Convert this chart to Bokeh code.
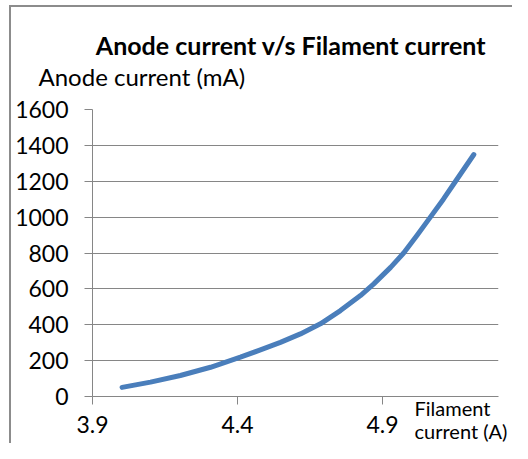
from bokeh.plotting import figure
from bokeh.models import Range1d, FixedTicker, Label
from bokeh.embed import file_html
from bokeh.resources import INLINE

# Data
filament_current = [4.002, 4.100, 4.203, 4.307, 4.410, 4.479, 4.548, 4.617, 4.686,
                    4.755, 4.824, 4.870, 4.928, 4.973, 5.020, 5.065, 5.110, 5.152, 5.215]
anode_current = [51, 80, 117, 163, 219, 260, 302, 349, 405,
                 479, 563, 628, 720, 800, 900, 1000, 1100, 1200, 1349]

x_ticks = [3.9, 4.4, 4.9]
y_ticks = [0, 200, 400, 600, 800, 1000, 1200, 1400, 1600]

title_text = "Anode current v/s Filament current"
y_label_text = "Anode current (mA)"
x_label_lines = ["Filament", "current (A)"]

FONT = "Lato"
GRAY = "#868686"
BORDER = "#8c8c8c"
BLUE = "#4a7ebb"

chart_border = (
    f"linear-gradient({BORDER}, {BORDER}) 9px 5px / 2px 100% no-repeat, "
    f"linear-gradient({BORDER}, {BORDER}) 9px 5px / 100% 2px no-repeat"
)

p = figure(
    title=None,
    frame_width=406, frame_height=287,
    min_border_left=92, min_border_right=14,
    min_border_top=109, min_border_bottom=47,
    x_range=Range1d(3.9, 5.3), y_range=Range1d(0, 1600),
    output_backend="svg", toolbar_location=None,
    styles={"background": chart_border},
)
p.outline_line_color = None
p.background_fill_color = None
p.border_fill_color = None

p.line(filament_current, anode_current, line_color=BLUE, line_width=5,
       line_cap="round", line_join="round")

p.xgrid.grid_line_color = None
p.ygrid.grid_line_color = GRAY
p.ygrid.grid_line_width = 1

p.xaxis.ticker = FixedTicker(ticks=x_ticks)
p.yaxis.ticker = FixedTicker(ticks=y_ticks)
for ax in (p.xaxis[0], p.yaxis[0]):
    ax.axis_line_color = GRAY
    ax.major_tick_line_color = GRAY
    ax.major_tick_out = 8
    ax.major_tick_in = 0
    ax.minor_tick_line_color = None
    ax.major_label_text_font = FONT
    ax.major_label_text_font_size = "23px"
    ax.major_label_text_color = "black"
p.yaxis.major_label_standoff = 16
p.xaxis.major_label_standoff = 11

# Texts placed in the top side panel (not clipped to the frame), positioned in data space
def add_text(text, x, y, dx, dy, size, align="left", bold=False):
    p.add_layout(Label(x=x, y=y, x_offset=dx, y_offset=dy, text=text,
                       text_font=FONT, text_font_size=size,
                       text_font_style="bold" if bold else "normal",
                       text_align=align, text_baseline="middle",
                       text_color="black"), "above")

add_text(title_text, 4.5845, 1600, 0, 65, "25px", align="center", bold=True)
add_text(y_label_text, 3.9, 1600, -54, 33, "24px")
add_text(x_label_lines[0], 5.3, 0, -84, -11, "20px")
add_text(x_label_lines[1], 5.3, 0, -84, -34, "20px")

open("out.html", "w").write(file_html(p, INLINE))
